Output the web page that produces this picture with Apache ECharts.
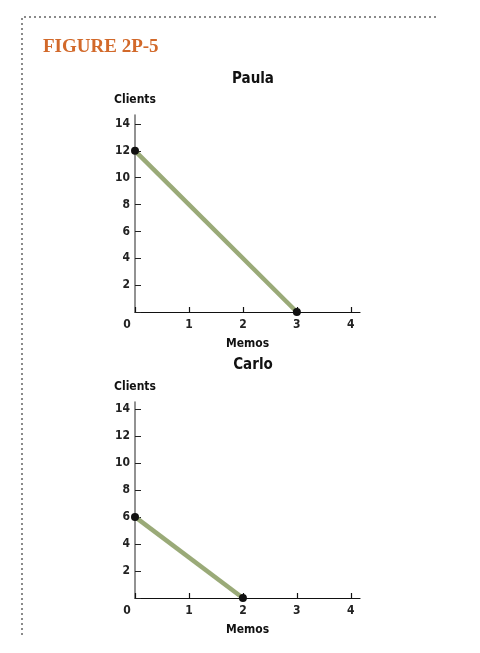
<!DOCTYPE html>
<html>
<head>
<meta charset="utf-8">
<script src="https://cdn.jsdelivr.net/npm/echarts@6/dist/echarts.min.js"></script>
<style>
html,body{margin:0;padding:0;background:#fff;}
#chart{width:480px;height:653px;}
</style>
</head>
<body>
<div id="chart"></div>
<script>
const figureTitle = 'FIGURE 2P-5';
const panelNames = ['Paula', 'Carlo'];
const xName = 'Memos';
const yName = 'Clients';
const paulaMemos = [0, 3];
const paulaClients = [12, 0];
const carloMemos = [0, 2];
const carloClients = [6, 0];
const xTicks = [0, 1, 2, 3, 4];
const yTicks = [0, 2, 4, 6, 8, 10, 12, 14];

const FONT = '"Liberation Sans Narrow", "DejaVu Sans Condensed", "Roboto", sans-serif';
const chart = echarts.init(document.getElementById('chart'), null, {renderer: 'canvas'});

function xAxisCfg(gi) {
  return {
    type: 'value', gridIndex: gi, min: 0, max: 4.17, interval: 1,
    name: xName, nameLocation: 'middle', nameGap: 26,
    nameTextStyle: {fontFamily: FONT, fontWeight: 'bold', fontSize: 12, color: '#111'},
    axisLine: {show: true, onZero: false, lineStyle: {color: '#111', width: 1.2}},
    axisTick: {show: true, inside: true, length: 5, lineStyle: {color: '#111', width: 1.2}},
    splitLine: {show: false},
    axisLabel: {
      margin: 7, fontFamily: FONT, fontWeight: 'bold', fontSize: 12, color: '#222',
      showMaxLabel: false,
      formatter: v => (xTicks.indexOf(v) < 0 ? '' : (v === 0 ? '{z|0}' : String(v))),
      rich: {z: {fontFamily: FONT, fontWeight: 'bold', fontSize: 12, color: '#222', padding: [0, 16, 0, 0]}}
    }
  };
}
function yAxisCfg(gi, max) {
  return {
    type: 'value', gridIndex: gi, min: 0, max: max, interval: 2,
    name: yName, nameLocation: 'end', nameGap: 9,
    nameTextStyle: {fontFamily: FONT, fontWeight: 'bold', fontSize: 12, color: '#111', align: 'center'},
    axisLine: {show: true, lineStyle: {color: '#777', width: 1.6}},
    axisTick: {show: true, inside: true, length: 6, lineStyle: {color: '#222', width: 1}},
    splitLine: {show: false},
    axisLabel: {
      margin: 5, fontFamily: FONT, fontWeight: 'bold', fontSize: 12, color: '#222',
      showMaxLabel: false,
      formatter: v => (v === 0 || yTicks.indexOf(v) < 0 ? '' : String(v))
    }
  };
}
function lineSeries(gi, xs, ys) {
  return {
    type: 'line', xAxisIndex: gi, yAxisIndex: gi,
    data: xs.map((x, i) => [x, ys[i]]),
    symbol: 'circle', symbolSize: 8, clip: false,
    itemStyle: {color: '#111'},
    lineStyle: {color: '#9aaa78', width: 4.5},
    z: 3
  };
}

chart.setOption({
  animation: false,
  title: [
    {text: figureTitle, left: 38, top: 33,
     textStyle: {fontFamily: '"Liberation Serif", "DejaVu Serif", serif', fontWeight: 'bold', fontSize: 19, color: '#d2692a'}},
    {text: panelNames[0], left: 248, top: 67, textAlign: 'center',
     textStyle: {fontFamily: FONT, fontWeight: 'bold', fontSize: 15, color: '#111'}},
    {text: panelNames[1], left: 248, top: 353, textAlign: 'center',
     textStyle: {fontFamily: FONT, fontWeight: 'bold', fontSize: 15, color: '#111'}}
  ],
  grid: [
    {left: 135, top: 115, width: 225, height: 197},
    {left: 135, top: 402, width: 225, height: 196}
  ],
  xAxis: [xAxisCfg(0), xAxisCfg(1)],
  yAxis: [yAxisCfg(0, 14.67), yAxisCfg(1, 14.5)],
  series: [
    lineSeries(0, paulaMemos, paulaClients),
    lineSeries(1, carloMemos, carloClients)
  ],
  graphic: [
    {type: 'polyline', silent: true,
     shape: {points: [[436, 17], [22, 17], [22, 636]]},
     style: {stroke: '#8a8a8a', lineWidth: 2, lineDash: [2, 3], fill: null}}
  ]
});
</script>
</body>
</html>
